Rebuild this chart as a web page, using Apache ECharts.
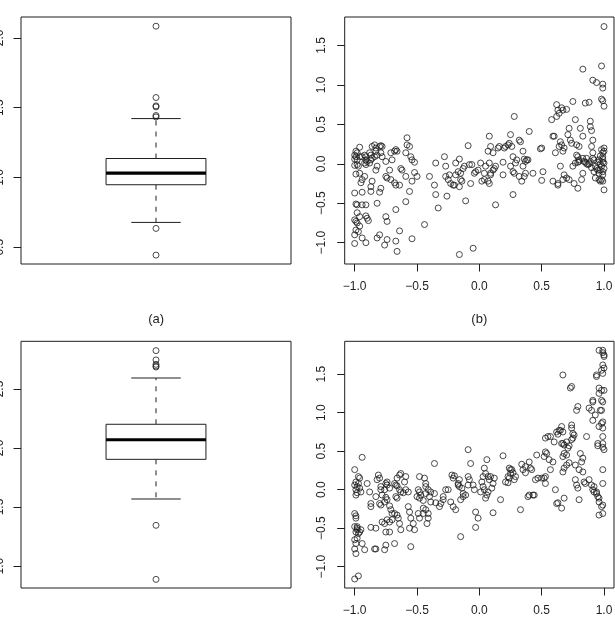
<!DOCTYPE html>
<html>
<head>
<meta charset="utf-8">
<script src="https://cdn.jsdelivr.net/npm/echarts@6/dist/echarts.min.js"></script>
<style>
html,body{margin:0;padding:0;background:#fff;}
#c{width:615px;height:627px;}
</style>
</head>
<body>
<div id="c"></div>
<script>
// ---- data ----
// boxplot stats: [lower whisker, Q1, median, Q3, upper whisker]
const boxA = [0.678, 0.948, 1.031, 1.136, 1.422];
const outliersA = [2.084, 1.573, 1.513, 1.506, 1.444, 1.434, 0.635, 0.444];
const boxC = [1.568, 1.904, 2.070, 2.201, 2.593];
const outliersC = [2.825, 2.746, 2.709, 2.695, 2.686, 1.345, 0.887];

const ticksA = [0.5, 1.0, 1.5, 2.0];
const ticksC = [1.0, 1.5, 2.0, 2.5];
const ticksXY = [-1.0, -0.5, 0.0, 0.5, 1.0];
const ticksYB = [-1.0, -0.5, 0.0, 0.5, 1.0, 1.5];

const panelLabels = ['(a)', '(b)'];

const scatterB = [
[-0.96,0.21],[-0.99,0.16],[-0.98,0.14],[-1.00,0.11],[-0.99,0.09],[-1.00,0.06],[-0.98,0.05],[-0.96,0.09],[-1.00,-0.02],[-0.98,-0.01],[-0.97,-0.03],[-0.99,-0.13],[-0.96,-0.12],
[-0.94,0.09],[-0.92,0.11],[-0.91,0.09],[-0.91,0.05],[-0.90,0.03],[-0.92,0.01],[-0.91,-0.01],[-0.88,0.01],[-0.87,0.05],[-0.86,0.07],[-0.84,0.09],[-0.87,0.11],[-0.88,0.14],
[-0.95,-0.24],[-0.94,-0.20],[-0.92,-0.16],
[-1.00,-0.37],[-0.94,-0.36],[-0.87,-0.35],
[-0.99,-0.51],[-0.98,-0.52],[-0.94,-0.52],[-0.91,-0.52],
[-0.98,-0.62],[-0.96,-0.67],[-0.91,-0.66],[-0.90,-0.69],[-0.89,-0.72],
[-1.00,-0.71],[-0.99,-0.73],[-0.98,-0.75],[-0.96,-0.79],
[-0.99,-0.84],[-0.97,-0.86],[-1.00,-0.90],[-0.94,-0.94],[-0.91,-1.00],[-1.00,-1.01],
[-0.86,0.22],[-0.84,0.24],[-0.83,0.20],[-0.80,0.22],[-0.79,0.23],[-0.78,0.22],
[-0.83,0.16],[-0.82,0.11],[-0.79,0.14],[-0.78,0.09],[-0.75,0.03],[-0.82,-0.03],[-0.83,-0.08],
[-0.86,-0.22],[-0.87,-0.29],[-0.79,-0.31],[-0.80,-0.36],[-0.82,-0.50],
[-0.80,-0.90],[-0.82,-0.94],[-0.76,-1.03],[-0.74,-0.96],[-0.75,-0.67],[-0.74,-0.73],
[-0.70,0.05],[-0.71,0.14],[-0.68,0.16],[-0.67,0.18],[-0.66,0.16],
[-0.72,-0.08],[-0.74,-0.18],[-0.75,-0.16],[-0.71,-0.20],[-0.68,-0.24],[-0.67,-0.27],[-0.64,-0.27],
[-0.67,-0.58],[-0.67,-0.98],[-0.66,-1.11],[-0.64,-0.85],
[-0.63,-0.06],[-0.62,-0.08],
[-0.58,0.33],[-0.56,0.22],[-0.55,0.09],[-0.54,0.05],[-0.52,0.02],[-0.59,0.14],[-0.58,0.24],[-0.59,-0.16],
[-0.52,-0.11],[-0.50,-0.16],[-0.54,-0.22],[-0.56,-0.35],[-0.59,-0.48],
[-0.54,-0.95],[-0.44,-0.77],
[-0.40,-0.16],[-0.36,-0.27],[-0.35,0.01],[-0.35,-0.39],[-0.33,-0.56],
[-0.28,0.09],[-0.27,-0.03],[-0.27,-0.16],[-0.25,-0.20],[-0.24,-0.14],[-0.23,-0.25],[-0.21,-0.27],[-0.20,-0.27],[-0.19,-0.14],[-0.26,-0.41],
[-0.19,0.01],[-0.16,0.06],[-0.15,-0.12],[-0.13,-0.06],[-0.12,-0.03],[-0.17,-0.10],[-0.15,-0.20],[-0.16,-0.29],[-0.14,-0.22],
[-0.16,-1.15],[-0.11,-0.47],[-0.09,0.23],[-0.08,-0.01],[-0.06,-0.01],[-0.07,-0.25],[-0.05,-1.07],
[-0.04,-0.12],[-0.03,-0.10],[-0.01,-0.08],[0.01,0.01],[0.02,-0.22],[0.04,-0.20],[0.04,-0.12],[0.05,-0.03],
[0.08,0.35],[0.09,0.22],[0.11,0.14],[0.07,0.16],[0.08,0.01],[0.09,-0.12],[0.07,-0.22],[0.08,-0.25],[0.09,-0.14],[0.12,-0.06],[0.13,-0.03],[0.11,-0.08],
[0.13,-0.52],[0.15,0.20],[0.16,0.22],[0.19,0.02],[0.19,-0.14],
[0.20,0.20],[0.21,0.22],[0.23,0.24],[0.24,0.26],[0.25,0.37],[0.26,0.22],[0.27,0.09],[0.28,0.60],
[0.25,-0.03],[0.27,-0.10],[0.28,-0.12],[0.29,0.01],[0.30,0.05],[0.27,-0.39],
[0.32,0.30],[0.33,0.28],[0.35,0.16],[0.35,-0.03],[0.36,0.06],[0.37,0.03],[0.38,0.05],
[0.32,-0.16],[0.34,-0.22],[0.36,-0.16],[0.37,-0.12],[0.39,0.05],[0.40,0.41],[0.43,-0.12],
[0.49,0.19],[0.50,0.20],[0.50,-0.21],[0.51,-0.10],
[0.58,0.56],[0.59,0.35],[0.60,0.35],[0.61,0.14],[0.62,0.60],[0.63,0.68],[0.64,0.64],
[0.59,-0.22],[0.63,-0.25],[0.63,-0.27],
[0.64,0.22],[0.66,0.24],[0.65,0.28],[0.67,0.16],[0.68,0.20],[0.65,-0.03],[0.67,-0.20],[0.68,-0.14],[0.70,-0.18],
[0.62,0.75],[0.66,0.71],[0.67,0.68],[0.75,0.79],[0.70,0.69],
[0.77,0.56],[0.72,0.45],[0.71,0.37],[0.73,0.30],[0.74,0.26],[0.75,-0.03],[0.77,0.01],[0.78,0.11],[0.79,0.09],[0.79,0.02],[0.80,0.03],[0.80,0.05],[0.78,0.24],
[0.72,-0.20],[0.76,-0.25],[0.79,-0.31],[0.80,0.22],[0.81,0.45],
[0.83,0.35],[0.83,0.07],[0.84,0.03],[0.86,0.07],[0.87,-0.01],[0.82,-0.20],[0.83,-0.12],
[0.83,1.20],[0.85,0.77],[0.88,0.78],[0.89,0.47],
[0.90,0.22],[0.91,0.14],[0.91,0.07],[0.92,0.05],[0.93,-0.03],[0.94,-0.06],[0.95,-0.08],
[0.89,0.54],[0.90,0.42],[0.91,0.30],
[0.91,1.06],[0.94,1.03],[0.98,1.24],[0.99,1.01],[0.99,0.96],[0.98,0.82],[0.99,0.80],[1.00,0.73],
[0.96,-0.12],[0.98,-0.20],[0.99,-0.22],[0.98,-0.03],[0.99,0.02],[0.99,0.09],[1.00,0.16],[1.00,0.20],[0.99,0.14],[0.99,0.06],[1.00,0.01],[1.00,-0.06],[0.99,-0.10],[0.99,-0.14],[1.00,-0.33],
[0.97,0.00],[0.96,0.05],[0.97,0.10],[0.98,0.18],[0.95,0.02],[0.97,-0.08],[0.96,-0.20],[0.97,-0.22],[0.93,-0.18],[0.92,-0.10],[0.88,0.00],[0.89,0.03],[0.90,-0.05],[0.85,0.02],[0.86,0.00],
[1.00,1.74]
];

const scatterD = [
[-1.00,0.26],[-0.99,0.10],[-1.00,0.06],[-0.99,0.00],[-0.98,-0.04],[-0.99,-0.07],[-0.96,0.02],[-0.97,0.08],[-0.98,0.04],[-0.95,-0.03],[-0.96,0.15],[-0.97,0.17],
[-0.94,0.42],[-0.90,0.08],[-0.88,-0.03],[-0.87,-0.18],[-0.87,-0.22],
[-1.00,-0.31],[-0.99,-0.34],[-0.99,-0.37],[-0.98,-0.48],[-0.98,-0.50],[-1.00,-0.48],[-0.99,-0.55],[-0.98,-0.52],[-0.96,-0.55],[-0.97,-0.57],[-0.95,-0.52],
[-1.00,-0.65],[-0.99,-0.70],[-0.98,-0.63],[-1.00,-0.77],[-0.99,-0.83],[-1.00,-1.16],[-0.97,-1.12],
[-0.94,-0.70],[-0.92,-0.78],[-0.87,-0.49],[-0.84,-0.77],[-0.83,-0.77],[-0.83,-0.50],
[-0.81,0.19],[-0.80,0.15],[-0.82,0.13],[-0.79,0.04],[-0.79,0.00],[-0.83,-0.09],[-0.80,-0.18],[-0.79,-0.20],
[-0.76,-0.16],[-0.78,-0.07],[-0.76,0.00],[-0.75,0.08],[-0.74,0.10],[-0.74,0.06],[-0.72,0.02],
[-0.75,-0.10],[-0.74,-0.13],[-0.72,-0.21],[-0.71,-0.26],[-0.70,-0.31],[-0.68,-0.31],[-0.67,-0.09],[-0.66,-0.11],
[-0.68,0.08],[-0.67,0.06],[-0.66,0.05],[-0.64,0.00],[-0.63,-0.03],[-0.61,-0.04],[-0.64,0.19],[-0.63,0.21],[-0.66,0.15],
[-0.60,0.10],[-0.59,0.00],[-0.57,-0.03],[-0.59,0.17],
[-0.78,-0.42],[-0.76,-0.44],[-0.74,-0.39],[-0.72,-0.42],[-0.70,-0.39],[-0.75,-0.55],[-0.75,-0.72],[-0.76,-0.78],[-0.68,-0.70],[-0.72,-0.55],
[-0.66,-0.33],[-0.65,-0.37],[-0.64,-0.44],[-0.63,-0.52],
[-0.57,-0.22],[-0.56,-0.29],[-0.55,-0.37],[-0.56,-0.50],[-0.53,-0.44],[-0.55,-0.74],[-0.52,-0.52],
[-0.49,0.00],[-0.48,-0.03],[-0.47,-0.07],[-0.50,-0.09],[-0.48,-0.11],[-0.45,-0.14],[-0.48,0.17],
[-0.44,0.15],[-0.43,0.08],[-0.43,0.04],[-0.41,0.00],[-0.43,-0.05],[-0.40,-0.09],
[-0.49,-0.31],[-0.48,-0.37],[-0.45,-0.24],[-0.45,-0.31],[-0.43,-0.26],[-0.41,-0.37],[-0.42,-0.44],[-0.41,-0.31],
[-0.39,-0.03],[-0.36,-0.05],[-0.39,-0.16],[-0.35,-0.17],[-0.36,0.34],
[-0.32,-0.22],[-0.31,-0.18],[-0.29,-0.13],[-0.29,-0.09],[-0.27,0.00],[-0.25,0.00],[-0.23,-0.16],[-0.21,-0.22],
[-0.22,0.19],[-0.20,0.18],[-0.21,0.15],[-0.19,-0.26],
[-0.17,0.08],[-0.17,0.06],[-0.16,0.13],[-0.16,0.04],[-0.14,0.02],[-0.13,-0.05],[-0.15,-0.13],[-0.13,-0.09],[-0.15,-0.61],
[-0.11,-0.07],[-0.09,0.06],[-0.09,0.17],[-0.08,0.13],[-0.09,0.52],[-0.07,0.34],[-0.05,0.06],[-0.04,0.00],
[-0.03,-0.29],[-0.01,-0.37],[-0.03,-0.49],
[0.01,-0.03],[0.03,0.17],[0.03,0.04],[0.04,0.00],[0.02,0.10],[0.04,0.28],[0.05,0.21],[0.06,0.39],[0.07,0.17],[0.08,0.13],[0.09,0.17],
[0.05,-0.11],[0.06,-0.07],[0.07,-0.03],[0.10,0.02],[0.11,0.08],[0.12,0.15],[0.11,-0.30],
[0.17,-0.13],[0.19,0.44],[0.21,0.10],[0.23,0.17],[0.24,0.28],[0.25,0.26],[0.25,0.21],[0.24,0.15],[0.26,0.26],[0.27,0.22],[0.28,0.13],[0.29,0.17],[0.23,0.09],
[0.33,-0.26],[0.34,0.33],[0.35,0.26],[0.37,0.30],[0.37,0.22],[0.40,0.36],[0.41,0.28],
[0.39,-0.09],[0.40,-0.07],[0.43,-0.07],[0.44,-0.07],[0.45,0.13],[0.47,0.15],[0.42,0.26],[0.46,0.45],
[0.50,0.15],[0.52,0.15],[0.53,0.08],[0.53,0.17],[0.52,0.43],[0.53,0.49],[0.54,0.47],[0.53,0.67],[0.55,0.69],[0.57,0.69],
[0.56,0.39],[0.57,0.26],[0.59,0.36],[0.60,0.62],[0.62,0.75],[0.64,0.77],[0.63,0.72],[0.65,0.77],[0.66,0.82],[0.67,0.75],
[0.66,0.60],[0.67,0.60],[0.68,0.58],[0.70,0.62],[0.68,0.47],[0.70,0.45],
[0.61,0.00],[0.62,-0.18],[0.63,-0.17],[0.67,0.43],[0.66,-0.24],[0.67,0.23],[0.68,0.28],[0.70,0.32],[0.68,-0.11],
[0.71,0.54],[0.72,0.57],[0.74,0.65],[0.75,0.67],[0.72,0.35],[0.74,0.84],[0.74,0.80],[0.75,0.73],[0.76,0.71],
[0.77,0.13],[0.78,0.06],[0.79,0.02],[0.80,-0.13],[0.82,0.36],[0.83,0.41],[0.77,0.32],[0.80,0.26],
[0.73,1.32],[0.74,1.34],[0.78,1.03],[0.79,1.08],[0.67,1.49],[0.81,0.47],[0.83,0.23],[0.84,0.10],[0.85,0.08],[0.86,0.69],
[0.88,1.06],[0.90,1.03],[0.91,1.14],[0.91,1.16],
[0.88,0.13],[0.90,0.06],[0.91,0.00],[0.92,-0.03],[0.94,-0.05],[0.95,-0.09],[0.96,-0.11],[0.96,-0.16],[0.98,-0.22],[0.99,-0.20],[0.92,0.04],[0.94,-0.03],
[0.91,0.90],[0.93,0.97],[0.94,1.49],[0.94,1.47],[0.96,1.25],[0.96,1.32],[0.98,1.29],[0.96,0.82],[0.98,0.86],[0.99,0.88],
[0.97,1.03],[0.98,1.03],[0.98,1.16],[0.99,1.14],[0.99,0.69],[0.99,0.60],[1.00,0.52],[0.95,0.60],[0.99,0.80],[0.99,0.08],
[1.00,1.29],[1.00,1.58],[0.99,1.62],[1.00,1.75],[1.00,1.73],[0.96,1.81],[0.99,1.81],[0.99,1.78],[0.98,1.55],[0.99,1.51],
[0.99,0.26],[0.99,-0.31],[0.96,-0.33],[0.95,0.57],[0.99,0.55]
];

// ---- chart ----
const FONT = '"Liberation Sans", Arial, Helvetica, sans-serif';
const INK = '#1e1e1e';
const fmt = v => v.toFixed(1).replace('-', '\u2212');

const grids = [
  {left: 21, top: 17, width: 270, height: 247},
  {left: 344.7, top: 17, width: 269.3, height: 247},
  {left: 21, top: 341.3, width: 270, height: 246.7},
  {left: 344.7, top: 341.3, width: 269.3, height: 246.7}
].map(g => Object.assign({show: true, borderColor: INK, borderWidth: 1, backgroundColor: 'transparent', containLabel: false, outerBoundsMode: 'none'}, g));

function labelCfg(ticks, margin, rotate) {
  return {show: true, customValues: ticks, formatter: fmt, fontFamily: FONT, fontSize: 12, color: INK, margin, rotate, hideOverlap: false, showMinLabel: true, showMaxLabel: true};
}
function valueAxis(gridIndex, min, max, ticks, label) {
  return {
    type: 'value', gridIndex, min, max,
    splitLine: {show: false},
    axisLine: {show: false, onZero: false},
    axisTick: {show: true, length: 7.5, inside: false, customValues: ticks, lineStyle: {color: INK, width: 1}},
    axisLabel: label
  };
}
function hiddenAxis(gridIndex) {
  return {type: 'value', gridIndex, min: 0, max: 1, show: false, splitLine: {show: false}, axisLine: {onZero: false}};
}

const BOX_HALF = 0.185, CAP_HALF = 0.0915;
function boxRender(params, api) {
  const x = api.value(0);
  const lo = api.value(1), q1 = api.value(2), med = api.value(3), q3 = api.value(4), hi = api.value(5);
  const P = (xv, yv) => api.coord([xv, yv]);
  const tl = P(x - BOX_HALF, q3), br = P(x + BOX_HALF, q1);
  const line = (a, b, extra) => ({type: 'line', shape: {x1: a[0], y1: a[1], x2: b[0], y2: b[1]}, style: Object.assign({stroke: INK, lineWidth: 1}, extra || {})});
  return {
    type: 'group',
    children: [
      line(P(x, q3), P(x, hi), {lineDash: [5, 6]}),
      line(P(x, q1), P(x, lo), {lineDash: [5, 6]}),
      line(P(x - CAP_HALF, hi), P(x + CAP_HALF, hi)),
      line(P(x - CAP_HALF, lo), P(x + CAP_HALF, lo)),
      {type: 'rect', shape: {x: tl[0], y: tl[1], width: br[0] - tl[0], height: br[1] - tl[1]}, style: {fill: '#fff', stroke: INK, lineWidth: 1}},
      line(P(x - BOX_HALF, med), P(x + BOX_HALF, med), {lineWidth: 3.2, stroke: '#000'})
    ]
  };
}

const pointStyle = {color: 'rgba(0,0,0,0)', borderColor: INK, borderWidth: 1};
function pointSeries(xi, yi, data, size) {
  return {type: 'scatter', xAxisIndex: xi, yAxisIndex: yi, data, symbol: 'circle', symbolSize: size, itemStyle: pointStyle, silent: true, z: 5};
}

const option = {
  animation: false,
  backgroundColor: '#fff',
  grid: grids,
  xAxis: [
    hiddenAxis(0),
    valueAxis(1, -1.08, 1.08, ticksXY, labelCfg(ticksXY, 17, 0)),
    hiddenAxis(2),
    valueAxis(3, -1.08, 1.08, ticksXY, labelCfg(ticksXY, 17, 0))
  ],
  yAxis: [
    valueAxis(0, 0.380, 2.150, ticksA, labelCfg(ticksA, 15, 90)),
    valueAxis(1, -1.270, 1.861, ticksYB, labelCfg(ticksYB, 17, 90)),
    valueAxis(2, 0.814, 2.904, ticksC, labelCfg(ticksC, 15, 90)),
    valueAxis(3, -1.277, 1.927, ticksYB, labelCfg(ticksYB, 17, 90))
  ],
  series: [
    {type: 'custom', xAxisIndex: 0, yAxisIndex: 0, renderItem: boxRender, data: [[0.5].concat(boxA)], encode: {x: 0, y: [1, 2, 3, 4, 5]}, silent: true},
    pointSeries(0, 0, outliersA.map(v => [0.5, v]), 6),
    pointSeries(1, 1, scatterB, 6),
    {type: 'custom', xAxisIndex: 2, yAxisIndex: 2, renderItem: boxRender, data: [[0.5].concat(boxC)], encode: {x: 0, y: [1, 2, 3, 4, 5]}, silent: true},
    pointSeries(2, 2, outliersC.map(v => [0.5, v]), 6),
    pointSeries(3, 3, scatterD, 6)
  ],
  graphic: [
    {type: 'text', x: 156.2, y: 319.5, style: {text: panelLabels[0], fontFamily: FONT, fontSize: 13, fill: INK, textAlign: 'center', textVerticalAlign: 'middle'}},
    {type: 'text', x: 479.3, y: 319.5, style: {text: panelLabels[1], fontFamily: FONT, fontSize: 13, fill: INK, textAlign: 'center', textVerticalAlign: 'middle'}}
  ]
};

const chart = echarts.init(document.getElementById('c'), null, {renderer: 'canvas'});
chart.setOption(option);
</script>
</body>
</html>
